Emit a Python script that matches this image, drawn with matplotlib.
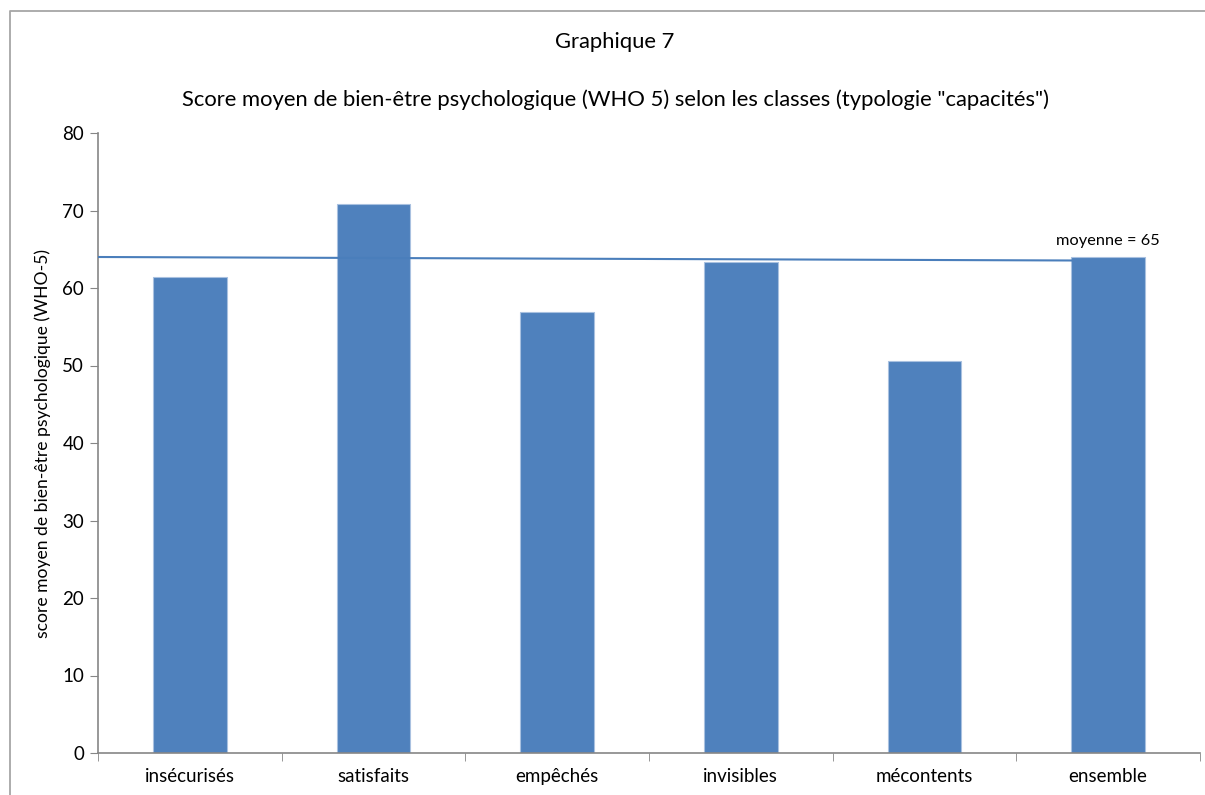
import matplotlib.pyplot as plt
from matplotlib.lines import Line2D

plt.rcParams['font.family'] = ['Lato', 'DejaVu Sans']

categories = ["insécurisés", "satisfaits", "empêchés", "invisibles", "mécontents", "ensemble"]
scores = [61.4, 70.8, 56.9, 63.4, 50.6, 64.0]
mean_line_x = [-0.5, 4.8]
mean_line_y = [64.0, 63.55]
mean_label = "moyenne = 65"
yticks = [0, 10, 20, 30, 40, 50, 60, 70, 80]

fig = plt.figure(figsize=(12.05, 7.95), dpi=100)
# outer chart frame (top and left edges only visible)
fy = 1 - 11 / 795
fx = 10 / 1205
fig.lines.append(Line2D([fx, fx, 1.0], [0.0, fy, fy], transform=fig.transFigure,
                        color="#a6a6a6", linewidth=1.3))

ax = fig.add_axes([98 / 1205, 42 / 795, 1102 / 1205, 620 / 795])
x = list(range(len(categories)))
ax.plot(mean_line_x, mean_line_y, color="#4a7ebb", linewidth=1.5, zorder=3)
ax.bar(x, scores, width=0.4, color="#4f81bd", edgecolor="#a9c1e0",
       linewidth=0.8, zorder=2)
ax.text(5, 66.1, mean_label, ha="center", va="center", fontsize=11.8)

ax.set_xlim(-0.5, 5.5)
ax.set_ylim(0, 80)
ax.set_yticks(yticks)
ax.set_xticks(x)
ax.set_xticklabels(categories)
ax.set_xticks([i - 0.5 for i in range(len(categories) + 1)], minor=True)
ax.tick_params(axis="x", which="major", length=0, pad=11, labelsize=13.5)
ax.tick_params(axis="x", which="minor", length=6, color="#868686", direction="out")
ax.tick_params(axis="y", length=6, color="#868686", labelsize=13.5, pad=4)
for s in ("top", "right"):
    ax.spines[s].set_visible(False)
for s in ("left", "bottom"):
    ax.spines[s].set_color("#868686")
    ax.spines[s].set_linewidth(1.2)
ax.set_ylabel("score moyen de bien-être psychologique (WHO-5)", fontsize=12.6, labelpad=8)

tx = 615 / 1205
fig.text(tx, 1 - 42 / 795, "Graphique 7", ha="center", va="center", fontsize=15.8)
fig.text(tx, 1 - 100 / 795,
         "Score moyen de bien-être psychologique (WHO 5) selon les classes (typologie \"capacités\")",
         ha="center", va="center", fontsize=15.8)

fig.savefig("out.png", dpi=100)
